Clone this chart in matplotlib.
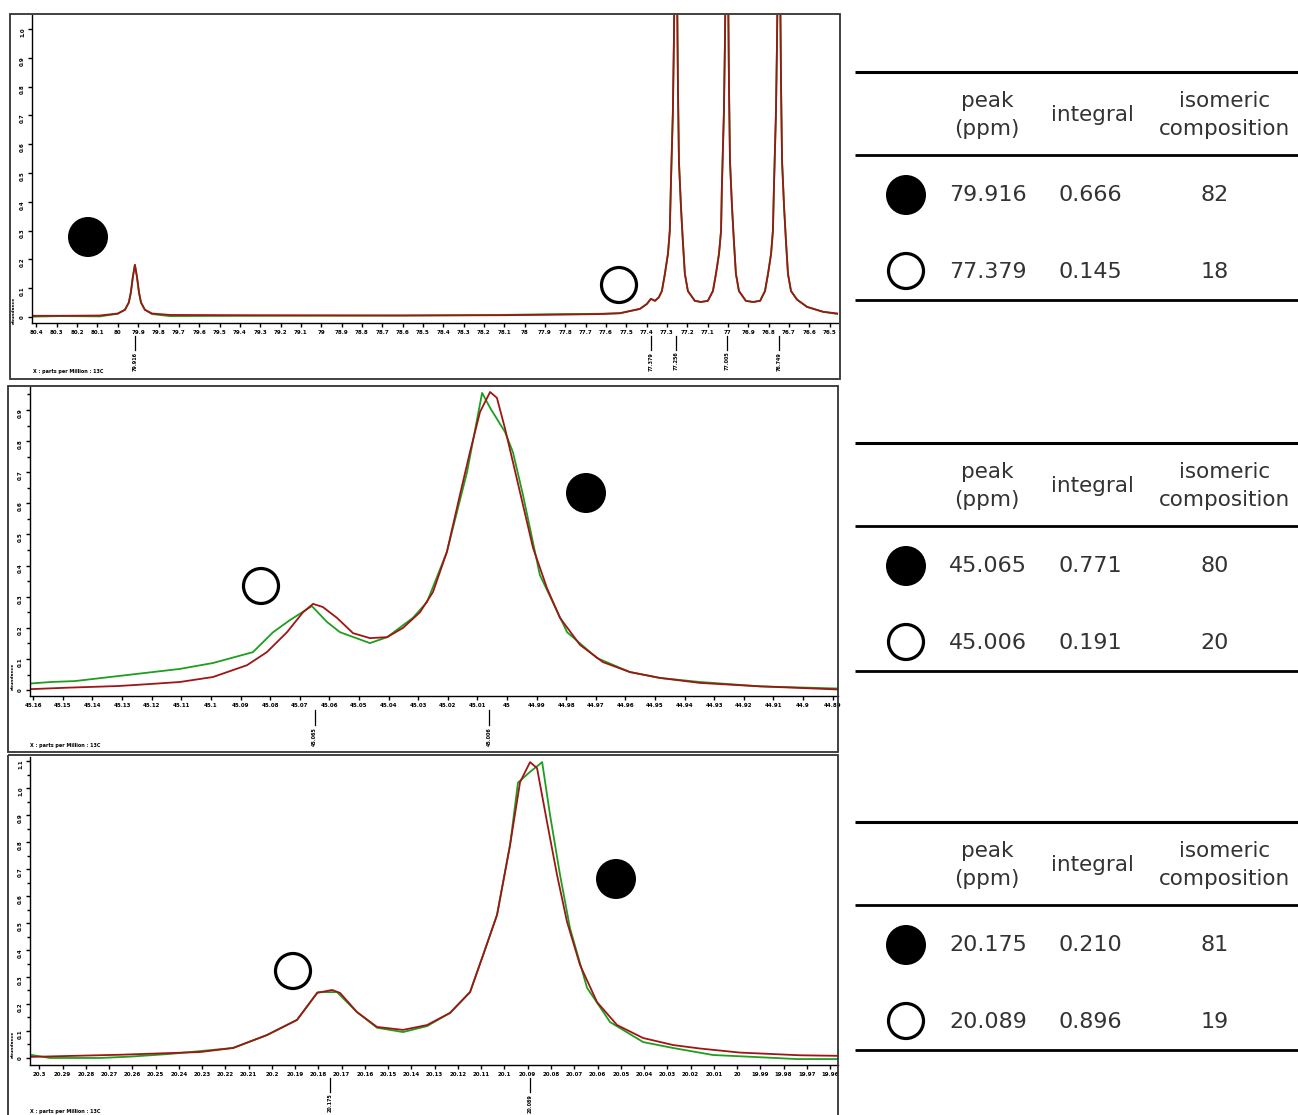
import matplotlib
matplotlib.use("Agg")
import matplotlib.pyplot as plt
from matplotlib.patches import Circle, Rectangle
from matplotlib.ticker import MultipleLocator, FuncFormatter

# ---- spectrum 1 (79.9 ppm region) ----
top_ppm = [80.422, 80.285, 80.088, 80.000, 79.965, 79.946, 79.936, 79.926, 79.916, 79.906,
           79.896, 79.886, 79.867, 79.832, 79.744, 79.351, 78.613, 78.121, 77.826, 77.630,
           77.531, 77.433, 77.399, 77.379, 77.359, 77.340, 77.325, 77.310, 77.295, 77.286,
           77.281, 77.271, 77.266, 77.256, 77.246, 77.241, 77.231, 77.222, 77.212, 77.197,
           77.163, 77.133, 77.099, 77.074, 77.059, 77.044, 77.034, 77.030, 77.020, 77.015,
           77.005, 76.995, 76.990, 76.980, 76.971, 76.961, 76.946, 76.912, 76.877, 76.842,
           76.818, 76.803, 76.788, 76.779, 76.774, 76.764, 76.759, 76.749, 76.739, 76.734,
           76.724, 76.715, 76.705, 76.690, 76.660, 76.611, 76.533, 76.460]
top_red = [0.004, 0.004, 0.005, 0.012, 0.025, 0.05, 0.085, 0.14, 0.181, 0.14,
           0.085, 0.05, 0.025, 0.012, 0.007, 0.006, 0.005, 0.006, 0.008, 0.010,
           0.013, 0.028, 0.045, 0.063, 0.056, 0.068, 0.09, 0.15, 0.22, 0.30,
           0.45, 0.71, 0.95, 1.6, 0.80, 0.54, 0.38, 0.265, 0.15, 0.09,
           0.056, 0.052, 0.056, 0.09, 0.15, 0.22, 0.30, 0.45, 0.71, 0.95,
           1.6, 0.80, 0.54, 0.38, 0.265, 0.15, 0.09, 0.056, 0.052, 0.056,
           0.09, 0.15, 0.22, 0.30, 0.45, 0.71, 0.95, 1.6, 0.80, 0.54,
           0.38, 0.265, 0.15, 0.09, 0.06, 0.035, 0.018, 0.012]
top_green = [0.001, 0.003, 0.002, 0.011, 0.025, 0.05, 0.085, 0.14, 0.181, 0.14,
             0.085, 0.05, 0.025, 0.010, 0.003, 0.004, 0.005, 0.007, 0.010, 0.011,
             0.013, 0.028, 0.045, 0.063, 0.056, 0.068, 0.09, 0.15, 0.22, 0.30,
             0.45, 0.71, 0.95, 1.6, 0.80, 0.54, 0.38, 0.265, 0.15, 0.09,
             0.056, 0.052, 0.056, 0.09, 0.15, 0.22, 0.30, 0.45, 0.71, 0.95,
             1.6, 0.80, 0.54, 0.38, 0.265, 0.15, 0.09, 0.056, 0.052, 0.056,
             0.09, 0.15, 0.22, 0.30, 0.45, 0.71, 0.95, 1.6, 0.80, 0.54,
             0.38, 0.265, 0.15, 0.09, 0.06, 0.035, 0.018, 0.010]
top_peaks = [79.916, 77.379, 77.256, 77.005, 76.749]

# ---- spectrum 2 (45.0 ppm region) ----
mid_red_ppm = [45.1611, 45.1476, 45.1314, 45.1213, 45.1105, 45.0993, 45.0878, 45.0811, 45.0743, 45.0689,
               45.0655, 45.0622, 45.0574, 45.0520, 45.0463, 45.0405, 45.0351, 45.0294, 45.0250, 45.0203,
               45.0159, 45.0125, 45.0091, 45.0057, 45.0034, 45.0007, 44.9980, 44.9946, 44.9912, 44.9865,
               44.9821, 44.9753, 44.9676, 44.9585, 44.9483, 44.9348, 44.9145, 44.8882]
mid_red = [0.003, 0.008, 0.013, 0.019, 0.026, 0.042, 0.080, 0.122, 0.186, 0.25,
           0.277, 0.267, 0.232, 0.183, 0.167, 0.17, 0.20, 0.25, 0.315, 0.444,
           0.627, 0.765, 0.894, 0.958, 0.939, 0.842, 0.733, 0.595, 0.457, 0.328,
           0.232, 0.145, 0.09, 0.058, 0.039, 0.023, 0.012, 0.002]
mid_green_ppm = [45.1611, 45.1540, 45.1459, 45.1105, 45.0993, 45.0858, 45.0790, 45.0733, 45.0659, 45.0608,
                 45.0564, 45.0463, 45.0405, 45.0318, 45.0270, 45.0203, 45.0135, 45.0084, 45.0057, 45.0007,
                 44.9980, 44.9946, 44.9889, 44.9797, 44.9696, 44.9585, 44.9483, 44.9348, 44.9145, 44.8882]
mid_green = [0.021, 0.026, 0.029, 0.068, 0.087, 0.122, 0.186, 0.225, 0.27, 0.219,
             0.186, 0.151, 0.17, 0.232, 0.283, 0.444, 0.70, 0.955, 0.907, 0.83,
             0.765, 0.627, 0.37, 0.186, 0.103, 0.058, 0.039, 0.026, 0.012, 0.005]
mid_peaks = [45.065, 45.006]

# ---- spectrum 3 (20.1 ppm region) ----
bot_red_ppm = [20.304, 20.2653, 20.2309, 20.2167, 20.2021, 20.1892, 20.1806, 20.1741, 20.1707, 20.1634,
               20.1548, 20.1436, 20.1333, 20.1234, 20.1148, 20.1092, 20.1032, 20.0976, 20.0933, 20.089,
               20.086, 20.0817, 20.0774, 20.0731, 20.0675, 20.0602, 20.0516, 20.0404, 20.0275, 20.0159,
               19.9987, 19.9729, 19.9566]
bot_red = [0.004, 0.012, 0.022, 0.037, 0.085, 0.141, 0.241, 0.252, 0.241, 0.17,
           0.115, 0.104, 0.122, 0.167, 0.244, 0.381, 0.53, 0.789, 1.022, 1.096,
           1.074, 0.874, 0.678, 0.504, 0.344, 0.207, 0.122, 0.074, 0.048, 0.035,
           0.02, 0.01, 0.008]
bot_green_ppm = [20.304, 20.2954, 20.2739, 20.261, 20.2438, 20.2167, 20.2021, 20.1892, 20.1802, 20.172,
                 20.1634, 20.1548, 20.1436, 20.1333, 20.1234, 20.1148, 20.1092, 20.1032, 20.0976, 20.0942,
                 20.089, 20.0838, 20.0804, 20.0761, 20.0718, 20.0645, 20.0546, 20.0404, 20.0275, 20.0103,
                 19.9931, 19.9742, 19.9566]
bot_green = [0.012, 0.0, 0.0, 0.005, 0.015, 0.037, 0.085, 0.141, 0.244, 0.244,
             0.17, 0.112, 0.096, 0.118, 0.167, 0.244, 0.381, 0.53, 0.789, 1.02,
             1.06, 1.096, 0.9, 0.678, 0.48, 0.26, 0.133, 0.059, 0.037, 0.011,
             0.004, -0.004, -0.004]
bot_peaks = [20.175, 20.089]

# ---- tables ----
table_peaks = [["79.916", "77.379"], ["45.065", "45.006"], ["20.175", "20.089"]]
table_integrals = [["0.666", "0.145"], ["0.771", "0.191"], ["0.210", "0.896"]]
table_composition = [["82", "18"], ["80", "20"], ["81", "19"]]

RED = "#9e1515"
GREEN = "#1e9e1e"
W, H = 1298, 1115

fig = plt.figure(figsize=(W / 100, H / 100), dpi=100)


def px_axes(left, top, right, bottom):
    return fig.add_axes([left / W, 1 - bottom / H, (right - left) / W, (bottom - top) / H])


def fmt_ppm(v, pos):
    return f"{v:.2f}".rstrip("0").rstrip(".")


def style_axis(ax, xlim, ylim, xstep, ystep, minor=False):
    ax.set_xlim(*xlim)
    ax.set_ylim(*ylim)
    for s in ["top", "right"]:
        ax.spines[s].set_visible(False)
    for s in ["left", "bottom"]:
        ax.spines[s].set_linewidth(1.0)
    ax.xaxis.set_major_locator(MultipleLocator(xstep))
    ax.xaxis.set_major_formatter(FuncFormatter(fmt_ppm))
    ax.yaxis.set_major_locator(MultipleLocator(ystep))
    ax.yaxis.set_major_formatter(FuncFormatter(lambda v, p: f"{v:.1f}" if v > 1e-9 else "0"))
    if minor:
        ax.yaxis.set_minor_locator(MultipleLocator(ystep / 2))
    ax.tick_params(axis="both", which="major", length=3, width=1, labelsize=4, pad=2)
    ax.tick_params(axis="y", which="minor", length=2, width=1)
    ax.tick_params(axis="y", labelrotation=90)
    for lab in ax.get_xticklabels() + ax.get_yticklabels():
        lab.set_fontweight("bold")
    ax.patch.set_alpha(0)


def peak_marks(ax, peaks, y0, y1):
    for p in peaks:
        ax.plot([p, p], [y0, y1], color="black", lw=0.9,
                transform=ax.get_xaxis_transform(), clip_on=False)
        ax.text(p, y1 - 0.005, f"{p:.3f}", rotation=90, fontsize=3.5, fontweight="bold",
                ha="center", va="top", transform=ax.get_xaxis_transform(), clip_on=False)


LW = 1.3

# top spectrum
ax1 = px_axes(32, 15, 838, 323)
ax1.plot(top_ppm, top_green, color=GREEN, lw=LW)
ax1.plot(top_ppm, top_red, color=RED, lw=LW)
style_axis(ax1, (80.422, 76.459), (-0.021, 1.049), 0.1, 0.1)
peak_marks(ax1, top_peaks, -0.042, -0.088)

# middle spectrum
ax2 = px_axes(30, 387, 838, 696)
ax2.plot(mid_green_ppm, mid_green, color=GREEN, lw=LW)
ax2.plot(mid_red_ppm, mid_red, color=RED, lw=LW)
style_axis(ax2, (45.1611, 44.8882), (-0.019, 0.974), 0.01, 0.1, minor=True)
peak_marks(ax2, mid_peaks, -0.045, -0.095)

# bottom spectrum
ax3 = px_axes(30, 757, 838, 1065)
ax3.plot(bot_green_ppm, bot_green, color=GREEN, lw=LW)
ax3.plot(bot_red_ppm, bot_red, color=RED, lw=LW)
style_axis(ax3, (20.304, 19.9566), (-0.026, 1.115), 0.01, 0.1, minor=True)
peak_marks(ax3, bot_peaks, -0.042, -0.088)

# overlay in pixel coordinates
ov = fig.add_axes([0, 0, 1, 1], zorder=10)
ov.set_xlim(0, W)
ov.set_ylim(H, 0)
ov.axis("off")
ov.patch.set_alpha(0)

# panel frames
for (x0, y0, x1, y1) in [(10, 14, 840, 379), (8, 386, 838, 752), (8, 755, 838, 1120)]:
    ov.add_patch(Rectangle((x0, y0), x1 - x0, y1 - y0, fill=False, lw=1.3, ec="#333333"))

for (x, y) in [(33, 372), (30, 745), (30, 1112)]:
    ov.text(x, y, "X : parts per Million : 13C", fontsize=3.5, fontweight="bold",
            va="center", ha="left")
for (x, y) in [(14, 310), (13, 676), (13, 1044)]:
    ov.text(x, y, "abundance", fontsize=3.2, fontweight="bold", rotation=90,
            ha="center", va="center")


def filled(x, y, r=20):
    ov.add_patch(Circle((x, y), r, fc="black", ec="black", lw=0))


def hollow(x, y, r=17.5):
    ov.add_patch(Circle((x, y), r, fc="white", ec="black", lw=2.3))


# circles on the spectra
filled(88, 237)
hollow(619, 285)
hollow(261, 586)
filled(586, 493)
hollow(293, 971)
filled(616, 879)

# tables
TXT = "#333333"
table_tops = [72, 443, 822]
for i, t in enumerate(table_tops):
    ov.plot([855, 1298], [t, t], color="black", lw=2.2, solid_capstyle="butt")
    ov.plot([855, 1298], [t + 83, t + 83], color="black", lw=2.0, solid_capstyle="butt")
    ov.plot([855, 1298], [t + 228, t + 228], color="black", lw=2.0, solid_capstyle="butt")
    ov.text(987, t + 43, "peak\n(ppm)", fontsize=15.5, color=TXT, ha="center",
            va="center", linespacing=1.45)
    ov.text(1092, t + 43, "integral", fontsize=15.5, color=TXT, ha="center", va="center")
    ov.text(1225, t + 43, "isomeric\ncomposition", fontsize=15.5, color=TXT, ha="center",
            va="center", linespacing=1.45)
    for j, ry in enumerate([t + 123, t + 200]):
        if j == 0:
            filled(906, ry)
        else:
            hollow(906, ry - 1, r=17.5)
        ov.text(988, ry, table_peaks[i][j], fontsize=16, color=TXT, ha="center", va="center")
        ov.text(1090, ry, table_integrals[i][j], fontsize=16, color=TXT, ha="center", va="center")
        ov.text(1215, ry, table_composition[i][j], fontsize=16, color=TXT, ha="center", va="center")

fig.savefig("out.png", dpi=100)
